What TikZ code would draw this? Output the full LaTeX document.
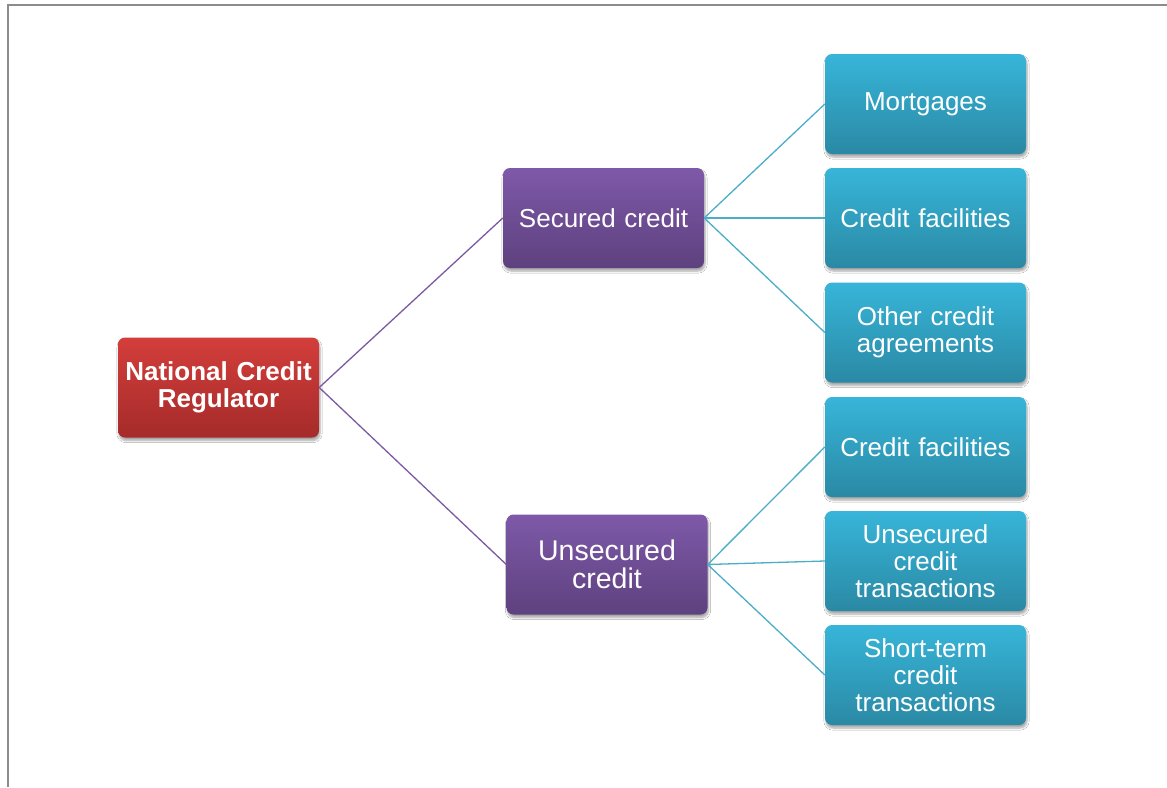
\documentclass[tikz,border=0pt]{standalone}
\usepackage{fontspec}
\setmainfont{Liberation Sans}
\usetikzlibrary{shadows.blur}
\definecolor{redtop}{HTML}{D33E3B}
\definecolor{redbot}{HTML}{A52B2A}
\definecolor{purtop}{HTML}{7E59A9}
\definecolor{purbot}{HTML}{5E417E}
\definecolor{teatop}{HTML}{37B5D9}
\definecolor{teabot}{HTML}{2A89A4}
\definecolor{purline}{HTML}{7A5AA0}
\definecolor{tealine}{HTML}{4BADC8}
\definecolor{frame}{HTML}{8C8C8C}
\tikzset{
  box/.style={rectangle, rounded corners=7pt, minimum width=201pt, minimum height=100pt,
    inner sep=0pt, text width=190pt, align=center, text=white,
    font=\fontsize{26}{27}\selectfont,
    blur shadow={shadow xshift=1pt, shadow yshift=-3pt, shadow blur steps=6, shadow opacity=35}},
  redbox/.style={box, top color=redtop, bottom color=redbot, font=\fontsize{26}{27}\selectfont\bfseries},
  purbox/.style={box, top color=purtop, bottom color=purbot},
  teabox/.style={box, top color=teatop, bottom color=teabot},
  purlink/.style={draw=purline, line width=1.3pt},
  tealink/.style={draw=tealine, line width=1.3pt},
}
\begin{document}
\begin{tikzpicture}[x=1pt,y=-1pt]
\useasboundingbox (0,0) rectangle (1167,787);
\fill[white] (0,0) rectangle (1167,787);
\draw[frame, line width=1.8pt] (8,787) -- (8,5) -- (1167,5);

\node[redbox] (ncr) at (218.5,387.5) {National Credit\\Regulator};
\node[purbox] (sec) at (603.5,218) {Secured credit};
\node[purbox, font=\fontsize{28.5}{28}\selectfont] (uns) at (607,564.5) {Unsecured\\credit};

\node[teabox] (m1) at (925.5,104) {Mortgages};
\node[teabox] (m2) at (925.5,218) {Credit facilities};
\node[teabox] (m3) at (925.5,332.5) {Other credit\\agreements};
\node[teabox] (m4) at (925.5,447) {Credit facilities};
\node[teabox] (m5) at (925.5,561) {Unsecured\\credit\\transactions};
\node[teabox] (m6) at (925.5,675) {Short-term\\credit\\transactions};

\draw[purlink] (ncr.east) -- (sec.west);
\draw[purlink] (ncr.east) -- (uns.west);
\draw[tealink] (sec.east) -- (m1.west);
\draw[tealink] (sec.east) -- (m2.west);
\draw[tealink] (sec.east) -- (m3.west);
\draw[tealink] (uns.east) -- (m4.west);
\draw[tealink] (uns.east) -- (m5.west);
\draw[tealink] (uns.east) -- (m6.west);
\end{tikzpicture}
\end{document}
